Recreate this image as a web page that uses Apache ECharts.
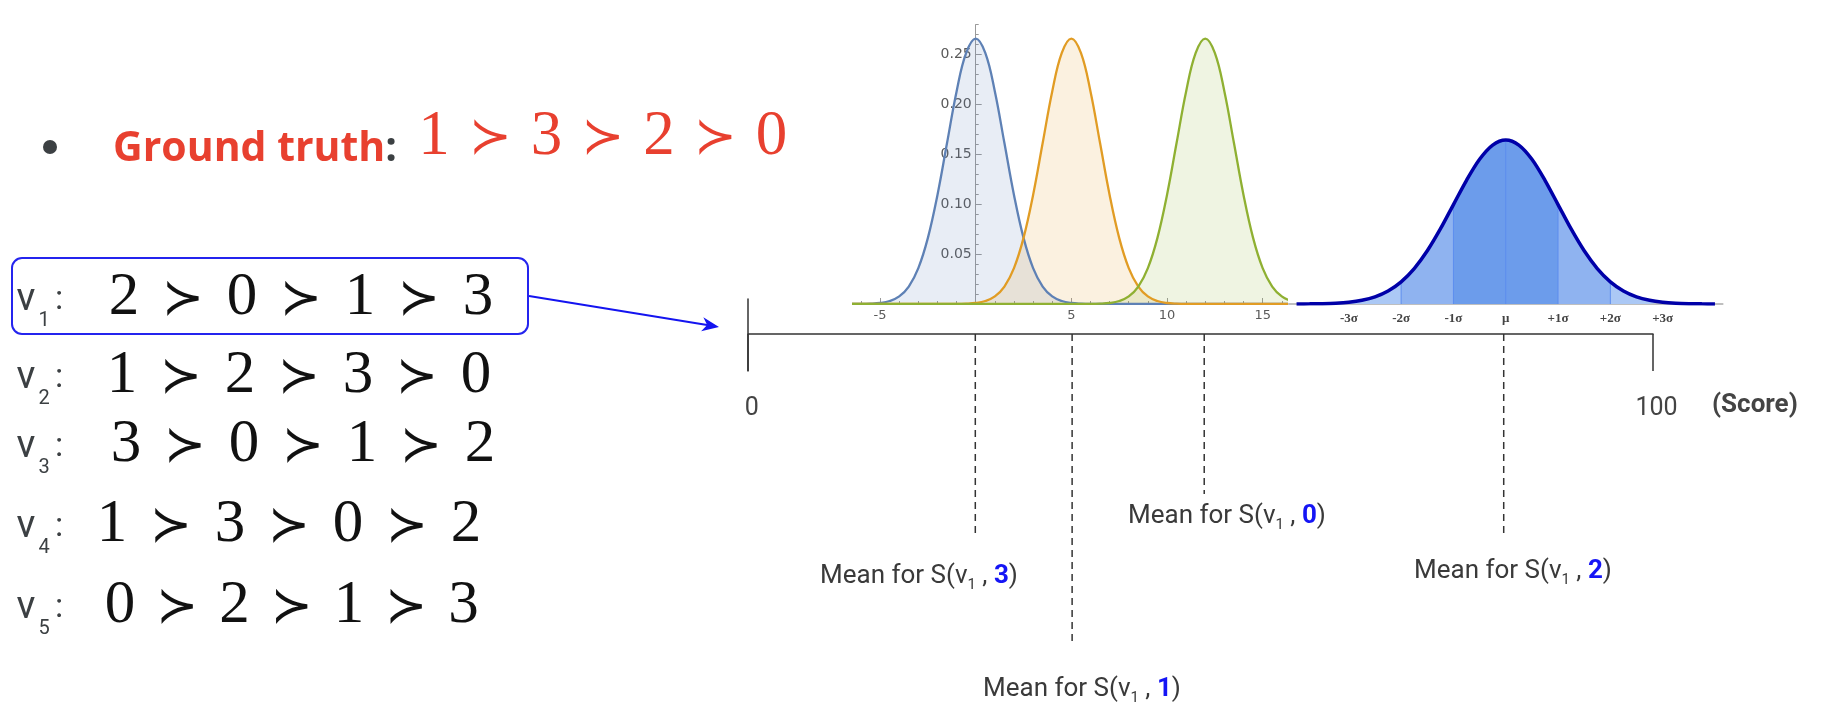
<!DOCTYPE html>
<html><head><meta charset="utf-8"><title>Score distributions</title>
<script src="https://cdn.jsdelivr.net/npm/echarts@6.0.0/dist/echarts.min.js"></script>
<style>html,body{margin:0;padding:0;background:#fff;}#main{width:1824px;height:726px;}</style>
</head><body><div id="main"></div>
<script>
// ---------------- data ----------------
const groundTruth = [1, 3, 2, 0];
const voterIds = [1, 2, 3, 4, 5];
const voterRankings = [[2, 0, 1, 3], [1, 2, 3, 0], [3, 0, 1, 2], [1, 3, 0, 2], [0, 2, 1, 3]];

// three densities (left plot)
const curveMeans = [0, 5, 12];
const densityOffsets = [-6, -5.5, -5, -4.5, -4, -3.5, -3, -2.5, -2, -1.5, -1, -0.5, 0, 0.5, 1, 1.5, 2, 2.5, 3, 3.5, 4, 4.5, 5, 5.5, 6];
const densityValues = [0.0001, 0.0003, 0.0010, 0.0030, 0.0076, 0.0175, 0.0360, 0.0663, 0.1093, 0.1613, 0.2130, 0.2516, 0.2660, 0.2516, 0.2130, 0.1613, 0.1093, 0.0663, 0.0360, 0.0175, 0.0076, 0.0030, 0.0010, 0.0003, 0.0001];
const densityTicksX = [-5, 0, 5, 10, 15];
const densityLabelsX = [-5, 5, 10, 15];
const densityTicksY = [0.05, 0.10, 0.15, 0.20, 0.25];

// standard normal (right plot), x in sigma units
const normalX = [-4, -3.75, -3.5, -3.25, -3, -2.75, -2.5, -2.25, -2, -1.75, -1.5, -1.25, -1, -0.75, -0.5, -0.25, 0, 0.25, 0.5, 0.75, 1, 1.25, 1.5, 1.75, 2, 2.25, 2.5, 2.75, 3, 3.25, 3.5, 3.75, 4];
const normalY = [0.0001, 0.0004, 0.0009, 0.0020, 0.0044, 0.0091, 0.0175, 0.0317, 0.0540, 0.0863, 0.1295, 0.1826, 0.2420, 0.3011, 0.3521, 0.3867, 0.3989, 0.3867, 0.3521, 0.3011, 0.2420, 0.1826, 0.1295, 0.0863, 0.0540, 0.0317, 0.0175, 0.0091, 0.0044, 0.0020, 0.0009, 0.0004, 0.0001];
const sigmaTicks = [-3, -2, -1, 0, 1, 2, 3];
const sigmaLabels = ['-3σ', '-2σ', '-1σ', 'μ', '+1σ', '+2σ', '+3σ'];
const sigmaBands = [[-4, -3], [-3, -2], [-2, -1], [-1, 1], [1, 2], [2, 3], [3, 4]];
const sigmaDividers = [-2, -1, 0, 1, 2];

// score axis
const scoreTicks = [0, 100];
const meanItems = [3, 1, 0, 2];
const meanScores = [25.1, 35.8, 50.4, 83.5];

// ---------------- styles / layout ----------------
const curveColors = ['#5E81B5', '#E19C24', '#8FB032'];
const bandColors = ['#AFCBF6', '#ABC8F5', '#8FB3F0', '#6C9CEB', '#8FB3F0', '#ABC8F5', '#AFCBF6'];
const dashDepth = [199, 312, 160, 199];
const labelPos = [[820, 576], [983, 689], [1128, 516], [1414, 571]];
const rowY = [298, 376, 445, 525, 606];
const rowStartX = [124, 122, 126, 112, 120];
const rowStep = [118, 118, 118, 118, 114.5];

function hex2rgba(h, a) {
  const n = parseInt(h.slice(1), 16);
  return 'rgba(' + (n >> 16 & 255) + ',' + (n >> 8 & 255) + ',' + (n & 255) + ',' + a + ')';
}

// ---------------- series ----------------
const series = [];
curveMeans.forEach((m, k) => {
  const d = [[m - 30, 0]];
  densityOffsets.forEach((o, i) => d.push([m + o, densityValues[i]]));
  d.push([m + 30, 0]);
  series.push({
    type: 'line', xAxisIndex: 0, yAxisIndex: 0, data: d, smooth: 0.4,
    showSymbol: false, symbol: 'none', clip: true, silent: true,
    lineStyle: { color: curveColors[k], width: 2.3 },
    areaStyle: { color: hex2rgba(curveColors[k], 0.2) }
  });
});

sigmaBands.forEach((b, k) => {
  const d = [];
  normalX.forEach((x, i) => { if (x >= b[0] - 1e-9 && x <= b[1] + 1e-9) d.push([x, normalY[i]]); });
  series.push({
    type: 'line', xAxisIndex: 1, yAxisIndex: 1, data: d, smooth: 0.3,
    symbol: 'none', silent: true, lineStyle: { width: 0, color: bandColors[k] },
    areaStyle: { color: bandColors[k], opacity: 1 }
  });
});
sigmaDividers.forEach(s => {
  const i = normalX.indexOf(s);
  series.push({
    type: 'line', xAxisIndex: 1, yAxisIndex: 1, data: [[s, 0], [s, normalY[i]]],
    symbol: 'none', silent: true, lineStyle: { width: 1, color: '#5B8DEE' }
  });
});
series.push({
  type: 'line', xAxisIndex: 1, yAxisIndex: 1, data: normalX.map((x, i) => [x, normalY[i]]),
  smooth: 0.3, symbol: 'none', silent: true, lineStyle: { width: 3.5, color: '#0000A8' }
});

meanScores.forEach((m, k) => {
  series.push({
    type: 'line', xAxisIndex: 3, yAxisIndex: 3, data: [[m, 0], [m, -dashDepth[k]]],
    symbol: 'none', silent: true, lineStyle: { width: 1.5, color: '#333', type: [7, 5] }
  });
});

// ---------------- graphic (text panel) ----------------
const g = [];
function txt(x, y, text, font, fill, align, extra) {
  return { type: 'text', x: x, y: y, z: 100, silent: true,
    style: Object.assign({ text: text, font: font, fill: fill, align: align || 'center', verticalAlign: 'middle' }, extra || {}) };
}
const DIG = '"Liberation Serif", "DejaVu Serif", serif';
const SUCC = '"DejaVu Sans", sans-serif';

// bullet + ground truth
g.push({ type: 'circle', shape: { cx: 50, cy: 147, r: 7 }, style: { fill: '#3c4043' }, z: 100, silent: true });
g.push(txt(113, 149, '{r|Ground truth}{c|:}', '', '#E8402F', 'left', {
  rich: {
    r: { fontFamily: 'Open Sans', fontWeight: 'bold', fontSize: 41, fill: '#E8402F' },
    c: { fontFamily: 'Open Sans', fontWeight: 'bold', fontSize: 41, fill: '#3c4043' }
  }
}));
function mathRow(vals, y, x0, step, color, dsz, ssz) {
  vals.forEach((v, i) => {
    g.push(txt(x0 + i * step, y, String(v), dsz + 'px ' + DIG, color));
    if (i < vals.length - 1) g.push(txt(x0 + (i + 0.5) * step, y + 3, '\u227B', ssz + 'px ' + SUCC, color));
  });
}
mathRow(groundTruth, 137, 434, 112.5, '#E8402F', 63, 51);

// voter rows
voterRankings.forEach((r, k) => {
  const y = rowY[k];
  g.push(txt(26, y + 2, 'v', '39px Roboto', '#3c4043'));
  g.push(txt(44, y + 23, String(voterIds[k]), '20px Roboto', '#3c4043'));
  g.push(txt(59, y + 2, ':', '34px Roboto', '#3c4043'));
  mathRow(r, y, rowStartX[k], rowStep[k], '#111', 61, 50);
});

// highlight box + arrow
g.push({ type: 'rect', shape: { x: 12, y: 258, width: 516, height: 76, r: 10 }, z: 100, silent: true,
  style: { fill: 'none', stroke: '#2424EE', lineWidth: 2 } });
(function () {
  const ax0 = 529, ay0 = 296, ax1 = 719, ay1 = 327;
  const ang = Math.atan2(ay1 - ay0, ax1 - ax0);
  const pt = (d, p) => [ax1 - d * Math.cos(ang) - p * Math.sin(ang), ay1 - d * Math.sin(ang) + p * Math.cos(ang)];
  const L = 17, W = 7, N = 12;
  g.push({ type: 'line', shape: { x1: ax0, y1: ay0, x2: pt(N, 0)[0], y2: pt(N, 0)[1] }, z: 100, silent: true,
    style: { stroke: '#1414F0', lineWidth: 2 } });
  g.push({ type: 'polygon', shape: { points: [[ax1, ay1], pt(L, W), pt(N, 0), pt(L, -W)] }, z: 100, silent: true,
    style: { fill: '#1414F0' } });
})();

// mean labels
meanItems.forEach((it, k) => {
  g.push(txt(labelPos[k][0], labelPos[k][1], '{m|Mean for S(v}{s|1}{m| , }{b|' + it + '}{m|)}', '', '#3a3a3a', 'left', {
    rich: {
      m: { fontFamily: 'Roboto', fontSize: 26, lineHeight: 34, fill: '#3a3a3a', verticalAlign: 'middle' },
      s: { fontFamily: 'Roboto', fontSize: 15, lineHeight: 15, fill: '#3a3a3a', verticalAlign: 'bottom' },
      b: { fontFamily: 'Roboto', fontWeight: 'bold', fontSize: 26, lineHeight: 34, fill: '#1515F5', verticalAlign: 'middle' }
    }
  }));
});
g.push(txt(1712, 405, '(Score)', 'bold 26px Roboto', '#444', 'left'));

// ---------------- option ----------------
const axGray = '#9a9a9a';
const option = {
  backgroundColor: '#ffffff',
  animation: false,
  grid: [
    { left: 853.3, top: 24.6, width: 432.3, height: 279.4 },
    { left: 1288.7, top: 131.4, width: 434.1, height: 172.6 },
    { left: 748.2, top: 299, width: 904.8, height: 72 },
    { left: 748.2, top: 334, width: 904.8, height: 366 }
  ],
  xAxis: [
    { gridIndex: 0, type: 'value', min: -6.4, max: 16.2,
      axisLine: { show: true, onZero: true, lineStyle: { color: axGray, width: 1 } },
      axisTick: { show: true, inside: true, length: 6, customValues: densityTicksX, lineStyle: { color: axGray } },
      minorTick: { show: true, splitNumber: 5, length: 3, lineStyle: { color: axGray } },
      axisLabel: { customValues: densityLabelsX, margin: 5, color: '#5a5a5a', fontSize: 13, fontFamily: 'DejaVu Sans',
        formatter: v => (v !== 0 && Math.abs(v / 5 - Math.round(v / 5)) < 1e-6) ? String(v) : '' },
      splitLine: { show: false } },
    { gridIndex: 1, type: 'value', min: -4.15, max: 4.15,
      axisLine: { show: true, onZero: false, lineStyle: { color: '#aaaaaa', width: 1.5 } },
      axisTick: { show: false },
      axisLabel: { customValues: sigmaTicks, margin: 8, color: '#444', fontSize: 13, fontWeight: 'bold',
        fontFamily: 'Liberation Serif',
        formatter: v => { const i = sigmaTicks.indexOf(Math.round(v)); return (i >= 0 && Math.abs(v - Math.round(v)) < 1e-6) ? sigmaLabels[i] : ''; } },
      splitLine: { show: false } },
    { gridIndex: 2, type: 'value', min: scoreTicks[0], max: scoreTicks[1], interval: 100,
      axisLine: { show: true, onZero: true, lineStyle: { color: '#333', width: 1.5 } },
      axisTick: { show: true, length: 37, lineStyle: { color: '#333', width: 1.5 } },
      axisLabel: { margin: 25, color: '#444', fontSize: 25, fontFamily: 'Roboto', padding: [0, 0, 0, 7] },
      splitLine: { show: false } },
    { gridIndex: 3, type: 'value', min: 0, max: 100, show: false }
  ],
  yAxis: [
    { gridIndex: 0, type: 'value', min: 0, max: 0.28, position: 'left', offset: -122.4,
      axisLine: { show: true, onZero: false, lineStyle: { color: axGray, width: 1 } },
      axisTick: { show: true, inside: true, length: 6, customValues: densityTicksY, lineStyle: { color: axGray } },
      minorTick: { show: true, splitNumber: 5, length: 3, lineStyle: { color: axGray } },
      axisLabel: { customValues: densityTicksY, margin: 4, color: '#5a5a5a', fontSize: 14, fontFamily: 'DejaVu Sans',
        formatter: v => (v > 0 && Math.abs(v / 0.05 - Math.round(v / 0.05)) < 1e-6) ? v.toFixed(2) : '' },
      splitLine: { show: false } },
    { gridIndex: 1, type: 'value', min: 0, max: 0.42, show: false },
    { gridIndex: 2, type: 'value', min: -37, max: 35,
      axisLine: { show: true, onZero: false, lineStyle: { color: '#333', width: 1.5 } },
      axisTick: { show: false }, axisLabel: { show: false }, splitLine: { show: false } },
    { gridIndex: 3, type: 'value', min: -366, max: 0, show: false }
  ],
  series: series,
  graphic: g
};

const chart = echarts.init(document.getElementById('main'), null, { renderer: 'canvas', width: 1824, height: 726 });
chart.setOption(option);
</script>
</body></html>
